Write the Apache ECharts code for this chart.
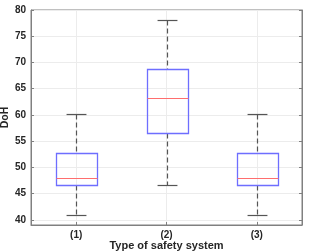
<!DOCTYPE html>
<html><head><meta charset="utf-8">
<script src="https://cdn.jsdelivr.net/npm/echarts@6/dist/echarts.min.js"></script>
<style>html,body{margin:0;padding:0;background:#fff}#c{width:309px;height:252px}</style>
</head><body><div id="c"></div>
<script>
const categories = ['(1)', '(2)', '(3)'];
const lowerWhisker = [40.9, 46.7, 40.9];
const q1 = [46.6, 56.6, 46.6];
const median = [48.0, 63.3, 48.0];
const q3 = [52.7, 68.8, 52.7];
const upperWhisker = [60.2, 78.1, 60.2];
const yTicks = [40, 45, 50, 55, 60, 65, 70, 75, 80];

const data = categories.map((c, i) => [i, lowerWhisker[i], q1[i], median[i], q3[i], upperWhisker[i]]);
const chart = echarts.init(document.getElementById('c'), null, {renderer: 'canvas'});
const frame = '#808080';
const txt = '#262626';
const font = 'Liberation Sans';
const gridC = '#ececec';
chart.setOption({
  animation: false,
  grid: {left: 31, right: 7, top: 10, bottom: 27, show: true, borderColor: frame, borderWidth: 1, backgroundColor: 'transparent', containLabel: false, outerBoundsMode: 'none'},
  xAxis: [{
    type: 'category', data: categories, boundaryGap: true,
    axisLine: {show: true, lineStyle: {color: frame}},
    axisTick: {show: true, alignWithLabel: true, inside: true, length: 3, lineStyle: {color: frame}},
    splitLine: {show: true, alignWithLabel: true, lineStyle: {color: gridC}},
    axisLabel: {color: txt, fontFamily: font, fontWeight: 'bold', fontSize: 10, margin: 5},
    name: 'Type of safety system', nameLocation: 'middle', nameGap: 15, nameMoveOverlap: false,
    nameTextStyle: {color: txt, fontFamily: font, fontWeight: 'bold', fontSize: 11, verticalAlign: 'top'}
  }],
  yAxis: [{
    type: 'value', min: 39, max: 80,
    axisLine: {show: true, lineStyle: {color: frame}},
    axisTick: {show: true, inside: true, length: 3, customValues: yTicks, lineStyle: {color: frame}},
    axisLabel: {color: txt, fontFamily: font, fontWeight: 'bold', fontSize: 10, margin: 5, customValues: yTicks},
    splitLine: {show: true, lineStyle: {color: gridC}},
    name: 'DoH', nameLocation: 'middle', nameGap: 20, nameRotate: 90, nameMoveOverlap: false,
    nameTextStyle: {color: txt, fontFamily: font, fontWeight: 'bold', fontSize: 10.5}
  }, {
    type: 'value', min: 39, max: 80, position: 'right',
    axisLine: {show: true, lineStyle: {color: frame}},
    axisTick: {show: true, inside: true, length: 3, customValues: yTicks, lineStyle: {color: frame}},
    axisLabel: {show: false, customValues: yTicks},
    splitLine: {show: false}
  }],
  series: [{
    type: 'custom',
    data: data,
    encode: {x: 0, y: [1, 2, 3, 4, 5]},
    renderItem: function (params, api) {
      const i = api.value(0);
      const band = api.size([1, 0])[0];
      const bw = band * 0.45, cw = band * 0.22;
      const pLo = api.coord([i, api.value(1)]);
      const pQ1 = api.coord([i, api.value(2)]);
      const pMed = api.coord([i, api.value(3)]);
      const pQ3 = api.coord([i, api.value(4)]);
      const pHi = api.coord([i, api.value(5)]);
      const x = Math.round(pMed[0]) + 0.5;
      const r = v => Math.round(v) + 0.5;
      const dash = {stroke: '#555', lineWidth: 1.2, lineDash: [5, 3]};
      const solid = (c, w) => ({stroke: c, lineWidth: w || 1});
      const bx = Math.round(x - bw / 2) + 0.5;
      const bW = Math.round(bw);
      return {type: 'group', children: [
        {type: 'line', shape: {x1: x, y1: r(pHi[1]), x2: x, y2: r(pQ3[1])}, style: dash},
        {type: 'line', shape: {x1: x, y1: r(pQ1[1]), x2: x, y2: r(pLo[1])}, style: dash},
        {type: 'line', shape: {x1: x - cw / 2, y1: r(pHi[1]), x2: x + cw / 2, y2: r(pHi[1])}, style: solid('#555', 1.2)},
        {type: 'line', shape: {x1: x - cw / 2, y1: r(pLo[1]), x2: x + cw / 2, y2: r(pLo[1])}, style: solid('#555', 1.2)},
        {type: 'rect', shape: {x: bx, y: r(pQ3[1]), width: bW, height: Math.round(pQ1[1] - pQ3[1])}, style: {fill: null, stroke: '#6e6eff', lineWidth: 1.3}},
        {type: 'line', shape: {x1: bx, y1: r(pMed[1]), x2: bx + bW, y2: r(pMed[1])}, style: solid('#ff6e6e', 1.2)}
      ]};
    }
  }]
});
</script></body></html>
